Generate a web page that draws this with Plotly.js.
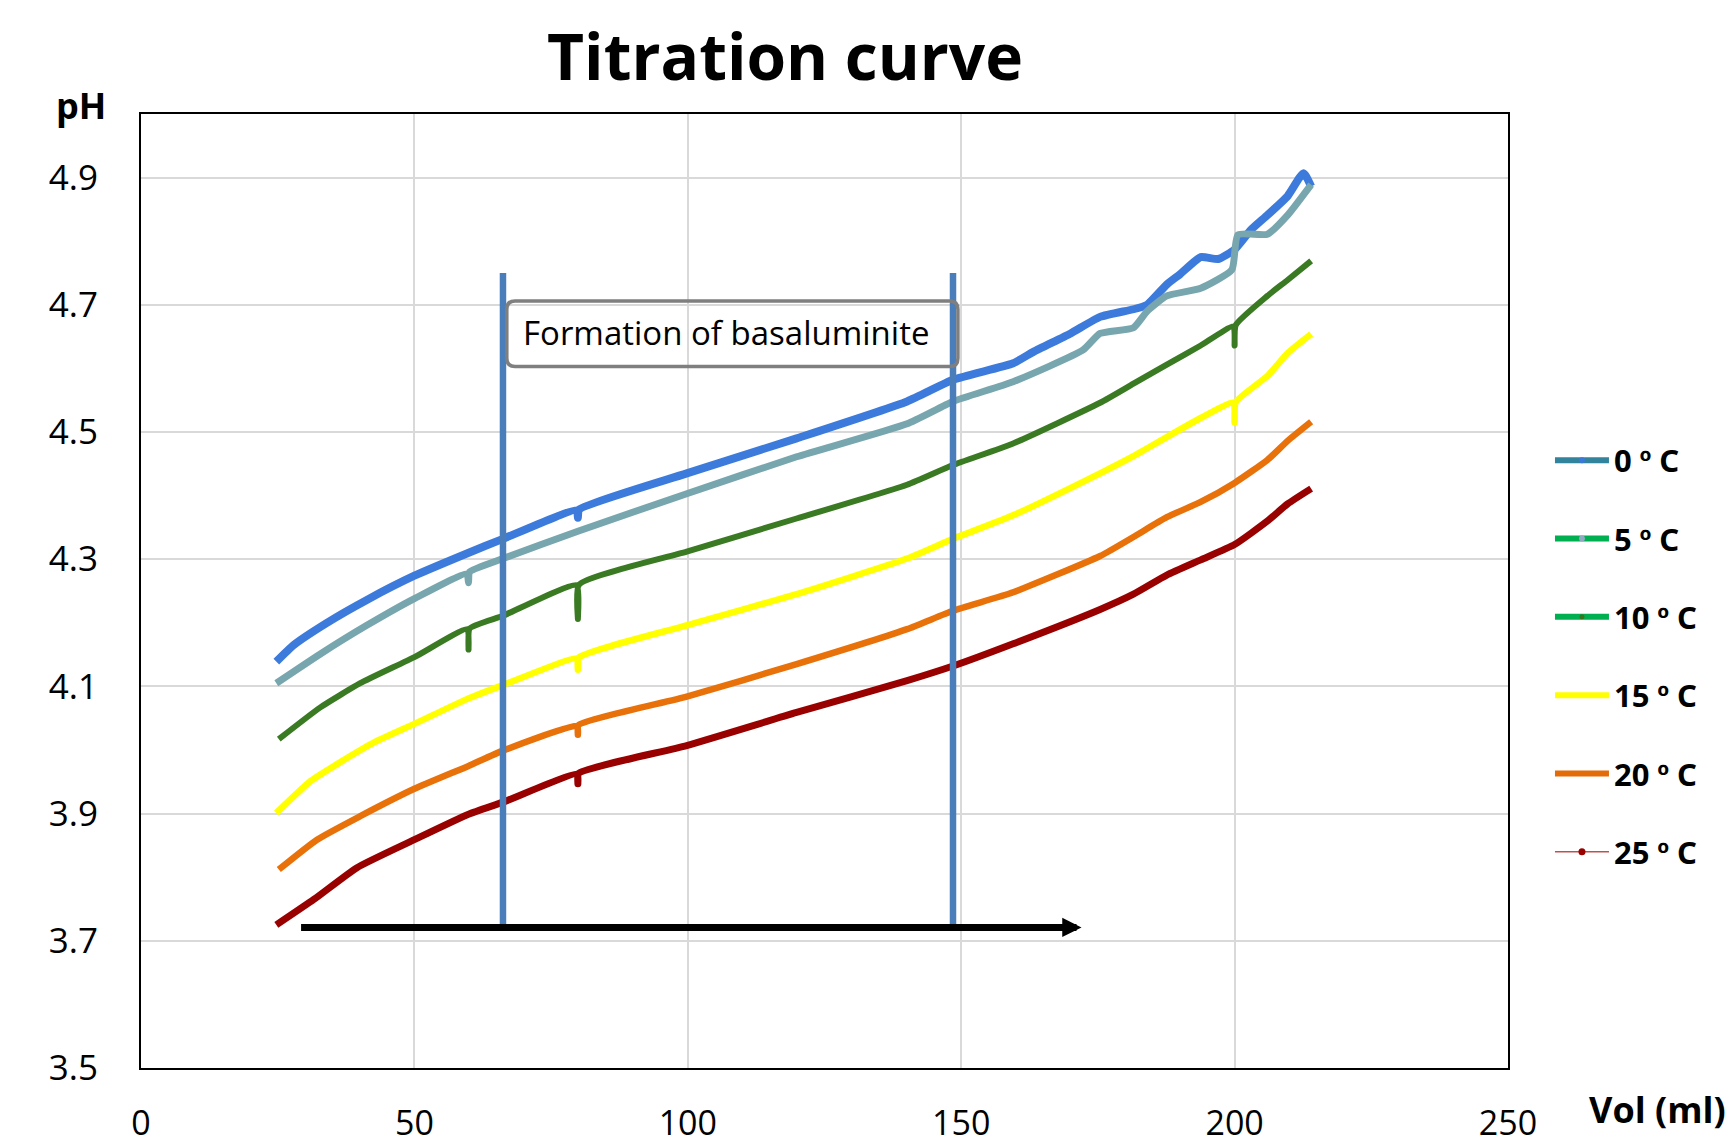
<!DOCTYPE html>
<html>
<head>
<meta charset="utf-8">
<script src="https://cdn.plot.ly/plotly-3.0.1.min.js"></script>
<style>html,body{margin:0;padding:0;background:#fff;}#chart{width:1736px;height:1145px;}</style>
</head>
<body>
<div id="chart"></div>
<script>
// ---- Data (Vol in ml, pH) ----
const seriesNames = ["0 º C", "5 º C", "10 º C", "15 º C", "20 º C", "25 º C"];

const vol0 = [24.75, 27.9, 34.0, 41.3, 50, 59.6, 66.2, 79.7, 79.9, 80.1, 99.8, 119.9, 140.1, 148.5, 159.5, 163.2, 170, 175.4, 181.5, 184, 187.6, 190, 193.8, 197, 200, 203, 206, 209.7, 212.6, 214];
const ph0  = [4.139, 4.165, 4.200, 4.236, 4.274, 4.309, 4.332, 4.377, 4.365, 4.378, 4.435, 4.490, 4.548, 4.582, 4.608, 4.626, 4.655, 4.681, 4.693, 4.700, 4.732, 4.748, 4.775, 4.772, 4.787, 4.818, 4.841, 4.871, 4.907, 4.886];

const vol5 = [24.75, 32.8, 41.3, 50, 59.6, 59.9, 60.1, 66.2, 79.9, 99.8, 119.9, 140.1, 148.5, 159.5, 172.3, 175.4, 181.5, 184, 187.6, 193.8, 199.5, 200.6, 206, 209.7, 214];
const ph5  = [4.105, 4.151, 4.196, 4.238, 4.277, 4.263, 4.280, 4.301, 4.344, 4.403, 4.461, 4.513, 4.548, 4.579, 4.629, 4.655, 4.664, 4.690, 4.714, 4.726, 4.755, 4.810, 4.811, 4.841, 4.889];

const vol10 = [25.2, 32.8, 40.1, 50, 59.7, 59.9, 60.1, 66.2, 79.7, 79.9, 80.1, 99.8, 119.9, 140.1, 148.5, 159.5, 175.4, 181.5, 187.6, 193.8, 199.8, 200, 200.2, 206, 209.7, 214];
const ph10  = [4.017, 4.067, 4.105, 4.146, 4.190, 4.158, 4.191, 4.211, 4.259, 4.206, 4.260, 4.312, 4.364, 4.417, 4.448, 4.482, 4.546, 4.576, 4.606, 4.636, 4.666, 4.636, 4.668, 4.714, 4.739, 4.769];

const vol15 = [24.75, 31.0, 36.1, 42.9, 50, 59.6, 66.2, 79.8, 79.9, 80.0, 99.8, 119.9, 140.1, 148.5, 159.5, 175.4, 181.5, 187.6, 193.8, 199.8, 200, 200.2, 206, 209.7, 214];
const ph15  = [3.901, 3.951, 3.979, 4.013, 4.041, 4.080, 4.102, 4.144, 4.126, 4.145, 4.196, 4.245, 4.301, 4.332, 4.369, 4.435, 4.462, 4.492, 4.522, 4.546, 4.515, 4.547, 4.588, 4.624, 4.654];

const vol20 = [25.2, 32.2, 40.1, 50, 59.9, 66.2, 79.8, 79.9, 80.0, 99.8, 119.9, 140.1, 148.5, 159.5, 175.4, 181.5, 187.6, 193.8, 200, 206, 209.7, 214];
const ph20  = [3.812, 3.859, 3.896, 3.939, 3.975, 3.999, 4.038, 4.024, 4.039, 4.084, 4.135, 4.190, 4.219, 4.248, 4.305, 4.335, 4.366, 4.390, 4.420, 4.456, 4.486, 4.516];

const vol25 = [24.75, 31.6, 39.5, 50, 59.9, 66.2, 79.8, 79.9, 80.0, 99.8, 119.9, 140.1, 148.5, 159.5, 175.4, 181.5, 187.6, 193.8, 200, 206, 209.7, 214];
const ph25  = [3.725, 3.765, 3.815, 3.859, 3.899, 3.918, 3.962, 3.947, 3.963, 4.007, 4.059, 4.109, 4.132, 4.167, 4.221, 4.245, 4.275, 4.299, 4.323, 4.360, 4.387, 4.411];

const xTickVals = [0, 50, 100, 150, 200, 250];
const yTickVals = [3.5, 3.7, 3.9, 4.1, 4.3, 4.5, 4.7, 4.9];

// Annotation geometry (data units)
const bracketVols = [66.2, 148.5];
const bracketPh = [3.72, 4.75];
const arrowVols = [29.0, 172.0];
const arrowPh = 3.721;
const boxVols = [66.9, 149.4];
const boxPh = [4.603, 4.706];
const boxLabel = "Formation of basaluminite";

// ---- Styles ----
const plotColors   = ["#3C7BDB", "#77A6AE", "#3A7A22", "#FFFF00", "#E8710A", "#990000"];
const plotWidths   = [8, 7, 6, 6.5, 6.5, 7];
const legendLine   = ["#31849B", "#00B050", "#00B050", "#FFFF00", "#E36C09", "#C0504D"];
const legendLineW  = [6, 6, 6, 6, 6, 1.5];
const legendMarker = ["#3C78D8", "#8EA9C1", "#38761D", "#FFFF00", "#E36C09", "#990000"];
const legendMarkerS= [6, 6, 5, 4, 4, 7];

const vols = [vol0, vol5, vol10, vol15, vol20, vol25];
const phs  = [ph0, ph5, ph10, ph15, ph20, ph25];

const FONT = "'Open Sans', 'Noto Sans', sans-serif";
const LFONT = "'Noto Sans', 'Open Sans', sans-serif";

// legend label: render the ordinal sign with a font whose º carries the underline bar
function legendLabel(s) {
  return s.replace("º", "<span style=\"font-family:'Liberation Sans'\">º</span>");
}

const traces = [];
for (let i = 0; i < seriesNames.length; i++) {
  traces.push({
    type: "scatter", mode: "lines", x: vols[i], y: phs[i],
    name: seriesNames[i], showlegend: false,
    line: {color: plotColors[i], width: plotWidths[i], shape: "spline", smoothing: 0.5},
    hoverinfo: "x+y+name"
  });
}
for (let i = 0; i < seriesNames.length; i++) {
  traces.push({
    type: "scatter", mode: "lines+markers", x: [null], y: [null],
    name: legendLabel(seriesNames[i]), legendgroup: "g" + i, showlegend: true,
    line: {color: legendLine[i], width: legendLineW[i]},
    marker: {color: legendMarker[i], size: legendMarkerS[i]}
  });
}

function roundRect(x0, x1, y0, y1, rx, ry) {
  return `M${x0 + rx},${y0} L${x1 - rx},${y0} Q${x1},${y0} ${x1},${y0 + ry} ` +
         `L${x1},${y1 - ry} Q${x1},${y1} ${x1 - rx},${y1} L${x0 + rx},${y1} ` +
         `Q${x0},${y1} ${x0},${y1 - ry} L${x0},${y0 + ry} Q${x0},${y0} ${x0 + rx},${y0} Z`;
}

const shapes = bracketVols.map(v => ({
  type: "line", xref: "x", yref: "y", x0: v, x1: v, y0: bracketPh[0], y1: bracketPh[1],
  line: {color: "#4A7EBB", width: 6.5}, layer: "above"
}));
shapes.push({
  type: "path", xref: "x", yref: "y",
  path: roundRect(boxVols[0], boxVols[1], boxPh[0], boxPh[1], 1.5, 0.013),
  line: {color: "#7F7F7F", width: 3.5}, fillcolor: "rgba(255,255,255,0)", layer: "above"
});

const annotations = [
  {xref: "x", yref: "y", x: (boxVols[0] + boxVols[1]) / 2 - 1.2, y: (boxPh[0] + boxPh[1]) / 2 + 0.002,
   text: boxLabel, showarrow: false, font: {family: FONT, size: 33, color: "#000"},
   xanchor: "center", yanchor: "middle"},
  {xref: "x", yref: "y", axref: "x", ayref: "y",
   x: arrowVols[1], y: arrowPh, ax: arrowVols[0], ay: arrowPh,
   text: "", showarrow: true, arrowhead: 2, arrowsize: 0.55, arrowwidth: 7, arrowcolor: "#000"},
  {xref: "paper", yref: "paper", x: -0.0436, y: 1.0084, text: "<b>pH</b>", showarrow: false,
   font: {family: FONT, size: 36, color: "#000"}, xanchor: "center", yanchor: "middle"},
  {xref: "paper", yref: "paper", x: 1.109, y: -0.044, text: "<b>Vol (ml)</b>", showarrow: false,
   font: {family: FONT, size: 36, color: "#000"}, xanchor: "center", yanchor: "middle"}
];

const layout = {
  width: 1736, height: 1145,
  paper_bgcolor: "#fff", plot_bgcolor: "#fff",
  margin: {l: 141, r: 228, t: 114, b: 77, pad: 0},
  title: {text: "<b>Titration curve</b>", font: {family: FONT, size: 64, color: "#000"},
          x: 0.4522, xanchor: "center", xref: "container", y: 0.95, yanchor: "middle", yref: "container"},
  xaxis: {range: [0, 250], tickvals: xTickVals, showgrid: true, gridcolor: "#D9D9D9", gridwidth: 2,
          showline: true, mirror: true, linecolor: "#000", linewidth: 2, zeroline: false, ticks: "",
          tickfont: {family: FONT, size: 34, color: "#000"}, ticklabelstandoff: 24},
  yaxis: {range: [3.5, 5.0], tickvals: yTickVals, tickformat: ".1f", showgrid: true, gridcolor: "#D9D9D9", gridwidth: 2,
          showline: true, mirror: true, linecolor: "#000", linewidth: 2, zeroline: false, ticks: "",
          tickfont: {family: FONT, size: 35, color: "#000"}, ticklabelstandoff: 34},
  legend: {x: 1.0307, xanchor: "left", y: 0.665, yanchor: "top", font: {family: LFONT, size: 31, color: "#000", weight: "bold"},
           bgcolor: "rgba(0,0,0,0)", borderwidth: 0, tracegroupgap: 35, itemwidth: 54, traceorder: "grouped"},
  showlegend: true,
  shapes: shapes,
  annotations: annotations
};

Plotly.newPlot("chart", traces, layout, {displayModeBar: false, staticPlot: true});
</script>
</body>
</html>
